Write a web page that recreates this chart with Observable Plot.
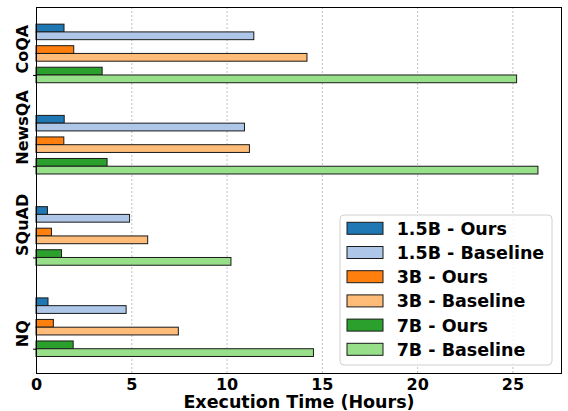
<!DOCTYPE html>
<html>
<head>
<meta charset="utf-8">
<script src="https://cdn.jsdelivr.net/npm/d3@7"></script>
<script src="https://cdn.jsdelivr.net/npm/@observablehq/plot@0.6"></script>
<style>
  html, body { margin: 0; padding: 0; background: #fff; }
  #chart { width: 568px; height: 411px; }
</style>
</head>
<body>
<div id="chart"></div>
<script>
// Datasets, top to bottom
const datasets = ["CoQA", "NewsQA", "SQuAD", "NQ"];
const models = ["1.5B", "3B", "7B"];
const series = ["1.5B - Ours", "1.5B - Baseline", "3B - Ours", "3B - Baseline", "7B - Ours", "7B - Baseline"];
const seriesColors = ["#1f77b4", "#aec7e8", "#ff7f0e", "#ffbb78", "#2ca02c", "#98df8a"];
const xTicks = [0, 5, 10, 15, 20, 25];

// Execution time in hours, per dataset (CoQA, NewsQA, SQuAD, NQ)
const ours_1_5B     = [1.47, 1.48, 0.60, 0.63];
const baseline_1_5B = [11.43, 10.94, 4.91, 4.73];
const ours_3B       = [1.98, 1.46, 0.81, 0.91];
const baseline_3B   = [14.22, 11.20, 5.86, 7.47];
const ours_7B       = [3.47, 3.73, 1.34, 1.95];
const baseline_7B   = [25.22, 26.34, 10.23, 14.56];

const valuesBySeries = [ours_1_5B, baseline_1_5B, ours_3B, baseline_3B, ours_7B, baseline_7B];

// Bar geometry in y units (one unit per dataset group)
const barH = 0.085;
const pairStep = 0.236;

const rows = [];
datasets.forEach((ds, i) => {
  const groupPos = datasets.length - 1 - i;
  series.forEach((s, j) => {
    const m = Math.floor(j / 2);
    const isOurs = j % 2 === 0;
    const c = groupPos + (models.length - 1 - m) * pairStep;
    rows.push({
      dataset: ds,
      series: s,
      value: valuesBySeries[j][i],
      y1: isOurs ? c : c - barH,
      y2: isOurs ? c + barH : c
    });
  });
});

const W = 568, H = 411;
const mL = 36, mR = 7, mT = 7, mB = 38;

const plot = Plot.plot({
  width: W,
  height: H,
  marginLeft: mL,
  marginRight: mR,
  marginTop: mT,
  marginBottom: mB,
  style: { fontFamily: "DejaVu Sans", fontWeight: "bold", fontSize: "16px", color: "#000", background: "#fff" },
  x: { domain: [0, 27.55] },
  y: { domain: [-0.266, 3.745] },
  color: { domain: series, range: seriesColors },
  marks: [
    Plot.gridX(xTicks.slice(1), { stroke: "#b0b0b0", strokeOpacity: 1, strokeWidth: 0.8, strokeDasharray: "2,2" }),
    Plot.rect(rows, { x1: 0, x2: "value", y1: "y1", y2: "y2", fill: "series", stroke: "#1a1a1a", strokeWidth: 1 }),
    Plot.axisX(xTicks, { tickSize: 0, tickPadding: 5, label: null, fontSize: 16, fontWeight: "bold" }),
    Plot.axisY(datasets.map((d, i) => datasets.length - 1 - i), { tickSize: 3, tickFormat: () => "", label: null }),
    Plot.text(datasets, {
      y: (d, i) => datasets.length - 1 - i,
      text: d => d,
      frameAnchor: "left",
      rotate: -90,
      textAnchor: "start",
      lineAnchor: "middle",
      dx: -14,
      dy: -2,
      fontSize: 16,
      fontWeight: "bold"
    }),
    Plot.text(["Execution Time (Hours)"], {
      frameAnchor: "bottom",
      lineAnchor: "top",
      dy: 22.4,
      fontSize: 17.5,
      fontWeight: "bold"
    }),
    Plot.frame({ stroke: "#000", strokeWidth: 1 })
  ]
});

document.getElementById("chart").appendChild(plot);

// Legend in the lower-right corner of the plot frame
const color = plot.scale("color");
const svg = d3.select(plot);
const frameRight = W - mR, frameBottom = H - mB;
const lgW = 212, lgH = 150;
const lgX = frameRight - 9 - lgW, lgY = frameBottom - 8 - lgH;
const lg = svg.append("g")
  .attr("font-family", "DejaVu Sans")
  .attr("font-weight", "bold")
  .attr("font-size", 17.5)
  .attr("text-anchor", "start");
lg.append("rect")
  .attr("x", lgX).attr("y", lgY).attr("width", lgW).attr("height", lgH)
  .attr("rx", 4).attr("fill", "#fff").attr("fill-opacity", 0.85)
  .attr("stroke", "#d0d0d0").attr("stroke-width", 1);
series.forEach((s, k) => {
  const cy = lgY + 13.3 + k * 24.2;
  lg.append("rect")
    .attr("x", lgX + 7).attr("y", cy - 6).attr("width", 36).attr("height", 12)
    .attr("fill", color.apply(s)).attr("stroke", "#1a1a1a").attr("stroke-width", 1);
  lg.append("text")
    .attr("x", lgX + 56.7).attr("y", cy + 6.4)
    .attr("text-anchor", "start")
    .attr("fill", "#000")
    .text(s);
});
</script>
</body>
</html>
